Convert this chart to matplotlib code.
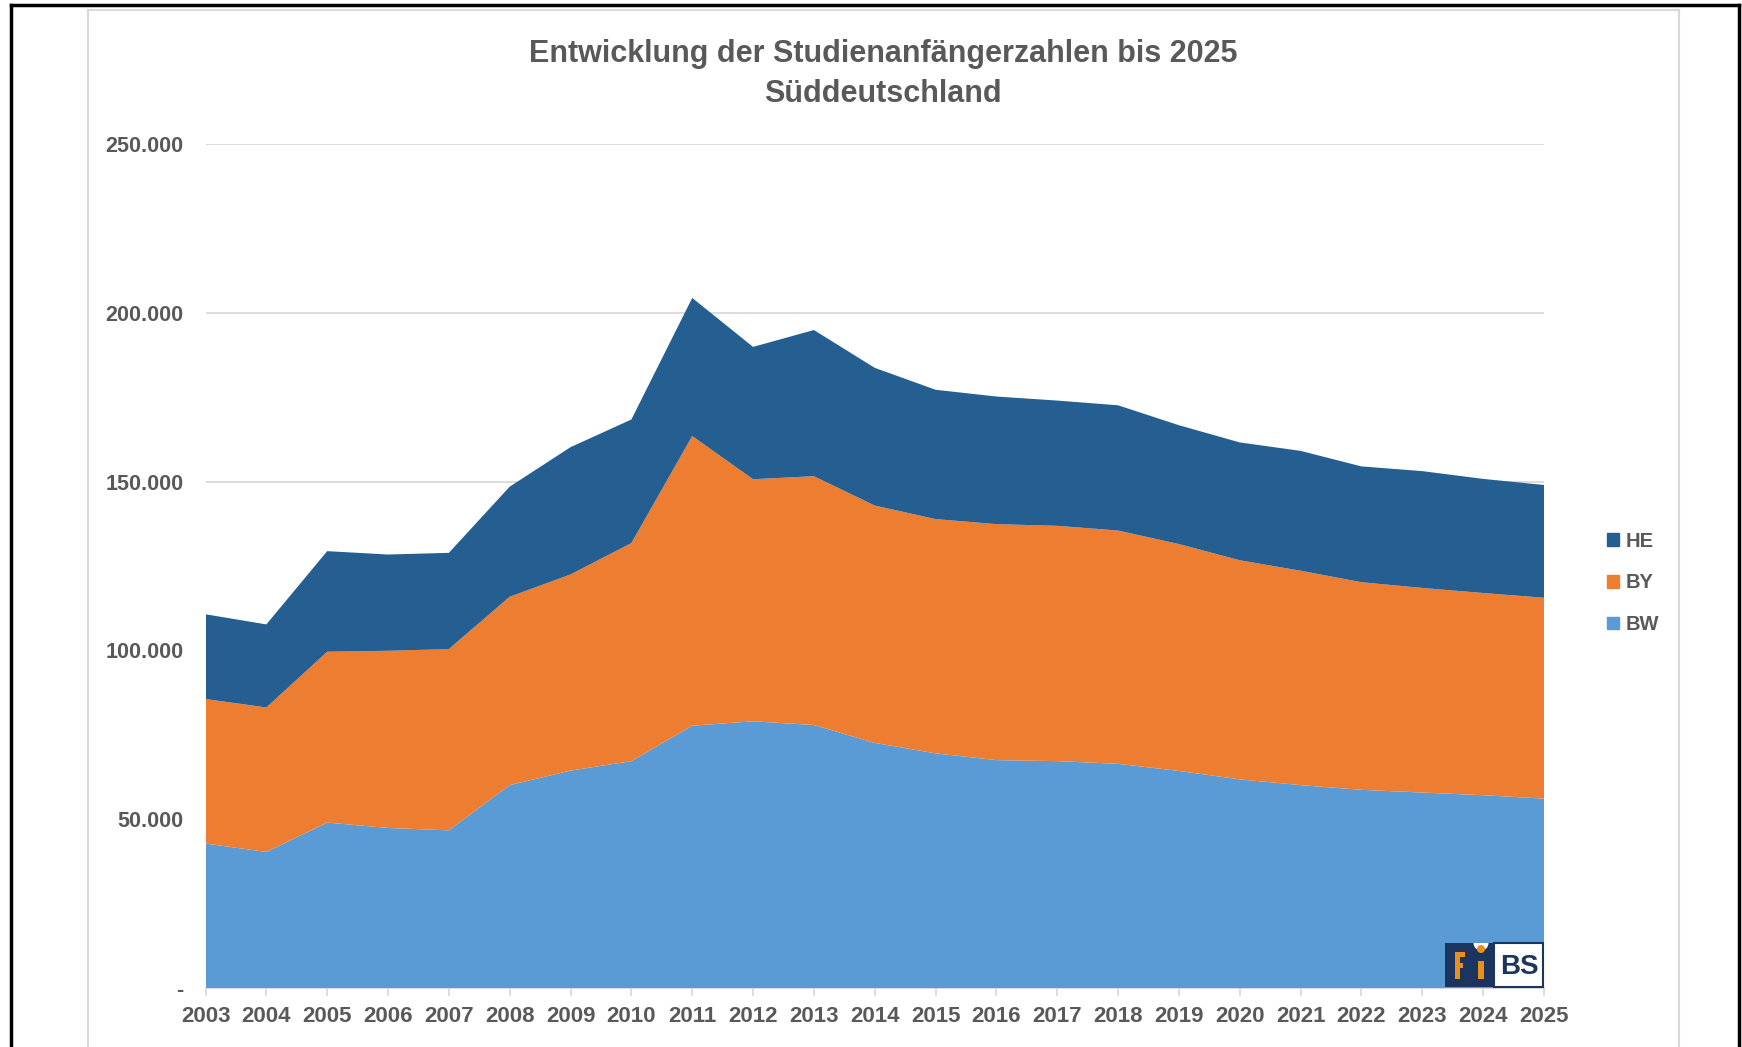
import numpy as np
import matplotlib
matplotlib.use("Agg")
import matplotlib.pyplot as plt
from matplotlib.patches import Rectangle, Circle, Wedge, Patch
from matplotlib.lines import Line2D
from matplotlib.ticker import FuncFormatter

years = list(range(2003, 2026))
bw = [42800, 40300, 49000, 47400, 46700, 60100, 64400, 67200, 77700, 79000, 77900, 72600,
      69500, 67500, 67200, 66400, 64300, 61800, 60100, 58700, 57900, 57100, 56100]
by = [42800, 42800, 50600, 52500, 53700, 55800, 58100, 64600, 85800, 71700, 73700, 70300,
      69400, 69900, 69700, 69100, 67200, 64900, 63500, 61500, 60600, 59900, 59500]
he = [25100, 24600, 29800, 28500, 28500, 32600, 37700, 36600, 40900, 39200, 43300, 40800,
      38300, 37800, 37100, 37100, 35200, 34900, 35500, 34300, 34600, 33800, 33400]
series_names = ["BW", "BY", "HE"]
colors = ["#5B9BD5", "#ED7D31", "#255E91"]
title = "Entwicklung der Studienanfängerzahlen bis 2025\nSüddeutschland"

W, H = 1742, 1047
plt.rcParams['font.family'] = ['Liberation Sans', 'DejaVu Sans']
fig = plt.figure(figsize=(W / 100, H / 100), dpi=100)
fig.patch.set_facecolor("white")
inch = fig.dpi_scale_trans


def fx(x):
    return x / W


def fy(y):
    return 1 - y / H


def box(x0, y0, x1, y1, **kw):
    # rectangle in screen pixels (top-left origin)
    fig.add_artist(Rectangle((x0 / 100, (H - y1) / 100), (x1 - x0) / 100, (y1 - y0) / 100,
                             transform=inch, **kw))


# screenshot frames
fig.add_artist(Line2D([fx(11), fx(11)], [fy(5), 0], transform=fig.transFigure, color="black", lw=2.5))
fig.add_artist(Line2D([fx(11), fx(1739)], [fy(5), fy(5)], transform=fig.transFigure, color="black", lw=2.5))
fig.add_artist(Line2D([fx(1739), fx(1739)], [fy(5), 0], transform=fig.transFigure, color="black", lw=2.5))
fig.add_artist(Line2D([fx(88), fx(88)], [fy(10), 0], transform=fig.transFigure, color="#d9d9d9", lw=1.5))
fig.add_artist(Line2D([fx(88), fx(1679)], [fy(10), fy(10)], transform=fig.transFigure, color="#d9d9d9", lw=1.5))
fig.add_artist(Line2D([fx(1679), fx(1679)], [fy(10), 0], transform=fig.transFigure, color="#d9d9d9", lw=1.5))

ax = fig.add_axes([fx(205.5), fy(988), fx(1544) - fx(205.5), fy(144) - fy(988)])
ax.stackplot(years, bw, by, he, colors=colors, labels=series_names, lw=0)
ax.set_xlim(2003, 2025)
ax.set_ylim(0, 250000)
ax.set_xticks(years)
ax.set_yticks(np.arange(0, 250001, 50000))
ax.yaxis.set_major_formatter(FuncFormatter(lambda v, p: "-" if v == 0 else f"{int(v):,}".replace(",", ".")))
ax.grid(axis="y", color="#d9d9d9", lw=1.3)
ax.set_axisbelow(True)
for s in ["top", "right", "left"]:
    ax.spines[s].set_visible(False)
ax.spines["bottom"].set_color("#d9d9d9")
ax.spines["bottom"].set_linewidth(1.3)
ax.spines["bottom"].set_zorder(0)
ax.tick_params(axis="x", length=6, width=1.3, color="#d9d9d9", pad=7, labelsize=16, labelcolor="#595959")
ax.tick_params(axis="y", length=0, pad=16, labelsize=15.5, labelcolor="#595959")
for lab in ax.get_xticklabels() + ax.get_yticklabels():
    lab.set_fontweight("bold")

fig.text(fx(883), fy(74), title, ha="center", va="center", fontsize=22, fontweight="bold",
         color="#595959", linespacing=1.45)

handles = [Patch(color=c) for c in colors][::-1]
leg = fig.legend(handles, series_names[::-1], loc="center left", bbox_to_anchor=(fx(1589), fy(583)),
                 frameon=False, handlelength=0.6, handleheight=0.6, handletextpad=0.3,
                 labelspacing=1.12, fontsize=14.5, labelcolor="#595959")
for t in leg.get_texts():
    t.set_fontweight("bold")

# FiBS logo
navy = "#1c355e"
orange = "#e8901f"
box(1445, 943, 1494, 987, facecolor=navy, edgecolor="none")
box(1494, 943, 1543, 987, facecolor="white", edgecolor=navy, lw=1.5)
# F
box(1455, 952, 1460, 979, facecolor=orange, edgecolor="none")
box(1455, 952, 1465, 957, facecolor=orange, edgecolor="none")
box(1455, 963, 1463, 968, facecolor=orange, edgecolor="none")
# i with its dot in a white notch
box(1478, 961, 1484, 979, facecolor=orange, edgecolor="none")
fig.add_artist(Wedge((14.81, (H - 943) / 100), 0.075, 180, 360, transform=inch,
                     facecolor="white", edgecolor="none"))
fig.add_artist(Circle((14.81, (H - 949) / 100), 0.04, transform=inch, facecolor=orange,
                      edgecolor="none"))
fig.text(fx(1519), fy(967), "BS", ha="center", va="center", fontsize=20, fontweight="bold", color=navy)

fig.savefig("out.png", dpi=100, facecolor="white")
